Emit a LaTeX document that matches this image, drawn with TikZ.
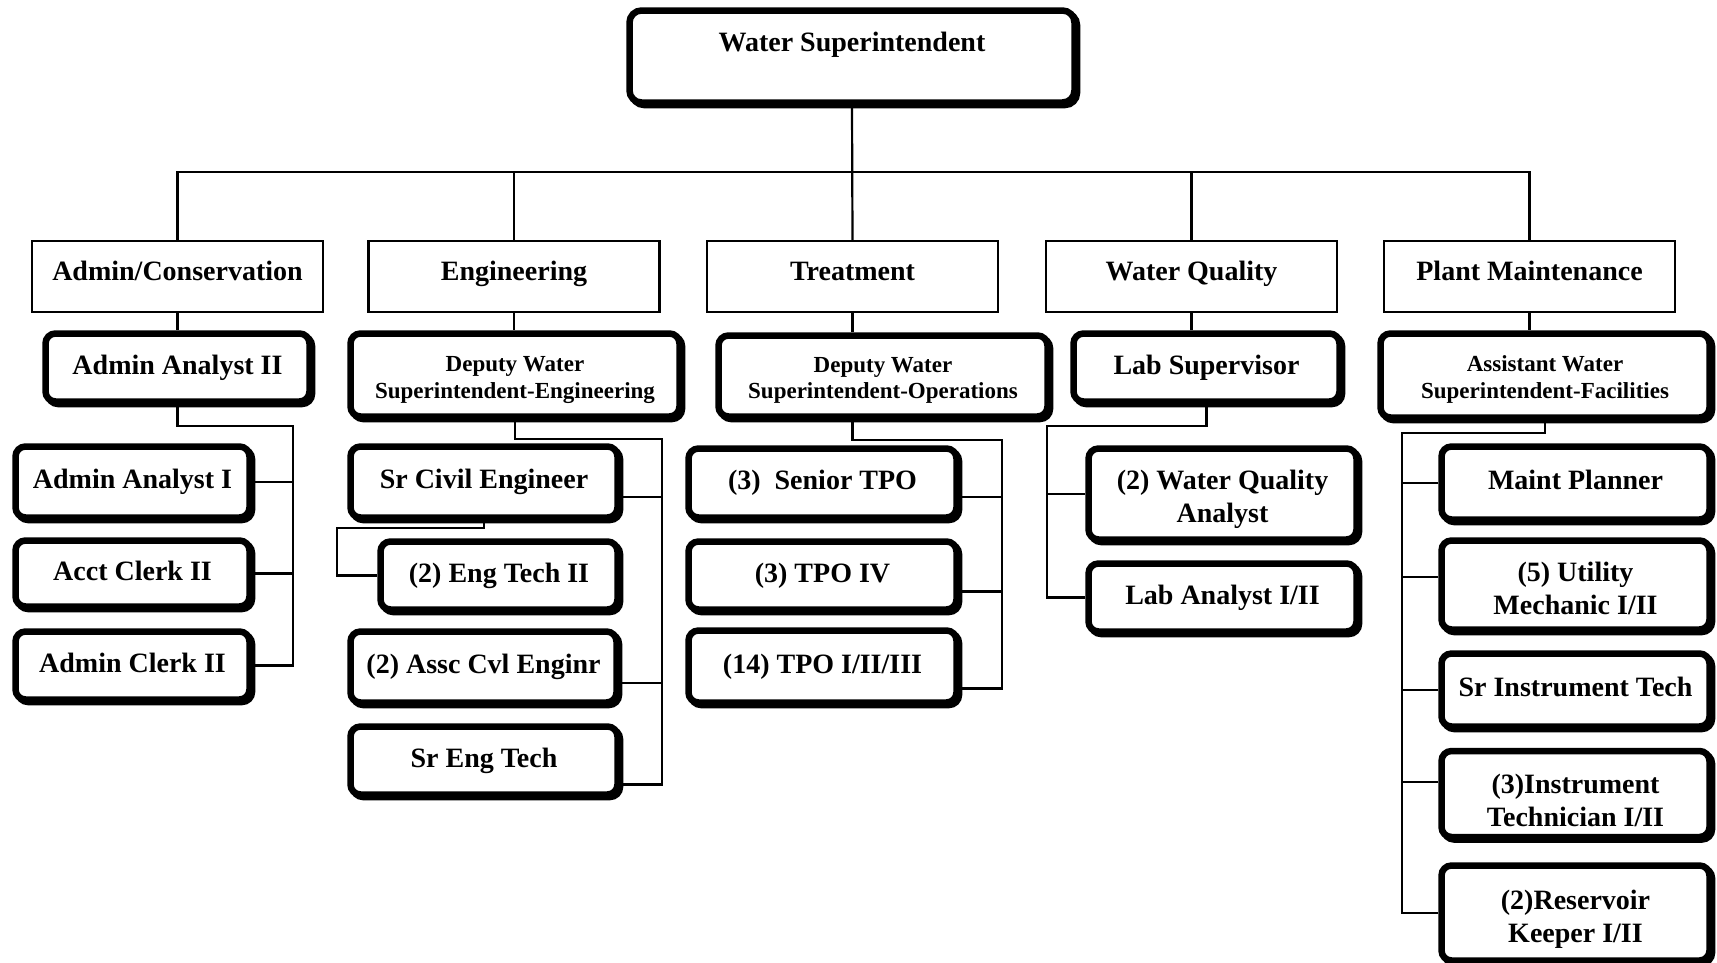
\documentclass[tikz,border=0pt]{standalone}
\usepackage{fontspec}
\setmainfont{Liberation Serif}
\usetikzlibrary{shadows,calc,backgrounds}

\newcommand\rolefont{\fontsize{28}{33}\selectfont\bfseries}
\newcommand\deputyfont{\fontsize{23}{26.5}\selectfont\bfseries}
% invisible strut that sets the height of the first line of a two-line label
\newcommand\firstline[1]{\rule{0pt}{#1}}

\begin{document}
\begin{tikzpicture}[x=1pt,y=-1pt,
  conn/.style={line width=2.2pt, line join=miter},
  dept/.style={draw, line width=2.5pt, fill=white, minimum width=291pt,
    minimum height=71pt, inner sep=0pt, font=\rolefont,
    text height=19.6pt, text depth=12.6pt},
  role/.style={draw, fill=white, line width=6.5pt, rounded corners=10pt,
    inner sep=0pt, align=center, font=\rolefont,
    general shadow={fill=black, draw=black, line width=6.5pt,
      shadow xshift=2.5pt, shadow yshift=-2.5pt}},
  one/.style={text height=19.6pt, text depth=6.2pt},
  deputy/.style={font=\deputyfont}]

\useasboundingbox (0,0) rectangle (1717,962);

% head of the division
\node[role, rounded corners=12pt, minimum width=445pt, minimum height=92pt,
  text height=41pt, text depth=51pt] (ws) at (852,56.5) {Water Superintendent};

% sections
\node[dept] (admin) at (177.5,276.5) {Admin/Conservation};
\node[dept] (eng)   at (514,276.5)   {Engineering};
\node[dept] (treat) at (852.5,276.5) {Treatment};
\node[dept] (wq)    at (1191.5,276.5) {Water Quality};
\node[dept] (pm)    at (1529.5,276.5) {Plant Maintenance};

% Admin/Conservation
\node[role, one, minimum width=264pt, minimum height=68pt] (aa2)  at (177.5,367.5) {Admin Analyst II};
\node[role, one, minimum width=234pt, minimum height=71pt] (aa1)  at (132.5,482)   {Admin Analyst I};
\node[role, one, minimum width=234pt, minimum height=66pt] (ac2)  at (132.5,573.5) {Acct Clerk II};
\node[role, one, minimum width=234pt, minimum height=68pt] (adc2) at (132.5,665.5) {Admin Clerk II};

% Engineering
\node[role, deputy, minimum width=329pt, minimum height=83pt] (dwse) at (515,375) {\firstline{25pt}Deputy Water\\Superintendent-Engineering};
\node[role, one, minimum width=267pt, minimum height=71pt] (sce)  at (484,482)   {Sr Civil Engineer};
\node[role, one, minimum width=237pt, minimum height=68pt] (et2)  at (499,575.5) {(2) Eng Tech II};
\node[role, one, minimum width=266pt, minimum height=71pt] (ace)  at (483.5,667) {(2) Assc Cvl Enginr};
\node[role, one, minimum width=267pt, minimum height=68pt] (seng) at (484,760.5) {Sr Eng Tech};

% Treatment
\node[role, deputy, minimum width=329pt, minimum height=81pt] (dwso) at (883,376) {\firstline{24pt}Deputy Water\\Superintendent-Operations};
\node[role, one, minimum width=268pt, minimum height=69pt] (stpo)  at (822.5,483)   {(3)\enspace Senior TPO};
\node[role, one, minimum width=268pt, minimum height=68pt] (tpo4)  at (822.5,575.5) {(3) TPO IV};
\node[role, one, minimum width=268pt, minimum height=72pt] (tpo13) at (822.5,666.5) {(14) TPO I/II/III};

% Water Quality
\node[role, one, minimum width=266pt, minimum height=68pt] (labsup) at (1206.5,367.5) {Lab Supervisor};
\node[role, minimum width=268pt, minimum height=91pt] (wqa)   at (1222.5,494)   {\firstline{30pt}(2) Water Quality\\Analyst};
\node[role, one, minimum width=268pt, minimum height=68pt] (lab12) at (1222.5,597.5) {Lab Analyst I/II};

% Plant Maintenance
\node[role, deputy, minimum width=329pt, minimum height=84pt] (awsf) at (1545,375.5) {\firstline{24pt}Assistant Water\\Superintendent-Facilities};
\node[role, one, minimum width=268pt, minimum height=73pt] (mp)  at (1575.5,483)   {Maint Planner};
\node[role, minimum width=268pt, minimum height=89pt]      (um)  at (1575.5,585)   {\firstline{27pt}(5) Utility\\Mechanic I/II};
\node[role, one, minimum width=268pt, minimum height=73pt] (sit) at (1575.5,690)   {Sr Instrument Tech};
\node[role, minimum width=268pt, minimum height=86pt]      (it)  at (1575.5,794)   {\firstline{33pt}(3)Instrument\\Technician I/II};
\node[role, minimum width=268pt, minimum height=95pt]      (rk)  at (1575.5,913)   {\firstline{31pt}(2)Reservoir\\Keeper I/II};

% junction points of the reporting lines
\coordinate (busL) at (177.5,172);
\coordinate (busR) at (1529.5,172);
\coordinate (adJ) at (293,426);
\coordinate (enJ) at (662,439);
\coordinate (etJ) at (337,528);
\coordinate (trJ) at (1002,440);
\coordinate (wqJ) at (1047,426);
\coordinate (pmJ) at (1402,433);

\coordinate (sceB)   at ($(sce.east)+(0,15)$);
\coordinate (aceB)   at ($(ace.east)+(0,16)$);
\coordinate (sengB)  at ($(seng.east)+(0,24)$);
\coordinate (stpoB)  at ($(stpo.east)+(0,14)$);
\coordinate (tpo4B)  at ($(tpo4.east)+(0,16)$);
\coordinate (tpo13B) at ($(tpo13.east)+(0,22)$);
\coordinate (dwsoB)  at (dwso.south -| treat.south);
\coordinate (umB)    at ($(um.west)+(0,-8)$);
\coordinate (itB)    at ($(it.west)+(0,-12)$);

\begin{scope}[on background layer]
  \fill[white] (0,0) rectangle (1717,962);
  % top level
  \draw[conn] (ws.south) -- (treat.north);
  \draw[conn] (admin.north) -- (busL) -- (busR) -- (pm.north);
  \draw[conn] (eng.north) -- (eng.north |- busL);
  \draw[conn] (wq.north) -- (wq.north |- busL);
  % sections to their leads
  \draw[conn] (admin.south) -- (aa2.north);
  \draw[conn] (eng.south) -- (eng.south |- dwse.north);
  \draw[conn] (treat.south) -- (treat.south |- dwso.north);
  \draw[conn] (wq.south) -- (wq.south |- labsup.north);
  \draw[conn] (pm.south) -- (pm.south |- awsf.north);
  % Admin/Conservation staff
  \draw[conn] (aa2.south) |- (adJ) |- (adc2.east);
  \draw[conn] (aa1.east) -- (aa1.east -| adJ);
  \draw[conn] (ac2.east) -- (ac2.east -| adJ);
  % Engineering staff
  \draw[conn] (dwse.south) |- (enJ) |- (sengB);
  \draw[conn] (sceB) -- (sceB -| enJ);
  \draw[conn] (aceB) -- (aceB -| enJ);
  \draw[conn] (sce.south) |- (etJ) |- (et2.west);
  % Treatment staff
  \draw[conn] (dwsoB) |- (trJ) |- (tpo13B);
  \draw[conn] (stpoB) -- (stpoB -| trJ);
  \draw[conn] (tpo4B) -- (tpo4B -| trJ);
  % Water Quality staff
  \draw[conn] (labsup.south) |- (wqJ) |- (lab12.west);
  \draw[conn] (wqa.west) -- (wqa.west -| wqJ);
  % Plant Maintenance staff
  \draw[conn] (awsf.south) |- (pmJ) |- (rk.west);
  \draw[conn] (mp.west) -- (mp.west -| pmJ);
  \draw[conn] (umB) -- (umB -| pmJ);
  \draw[conn] (sit.west) -- (sit.west -| pmJ);
  \draw[conn] (itB) -- (itB -| pmJ);
\end{scope}
\end{tikzpicture}
\end{document}
